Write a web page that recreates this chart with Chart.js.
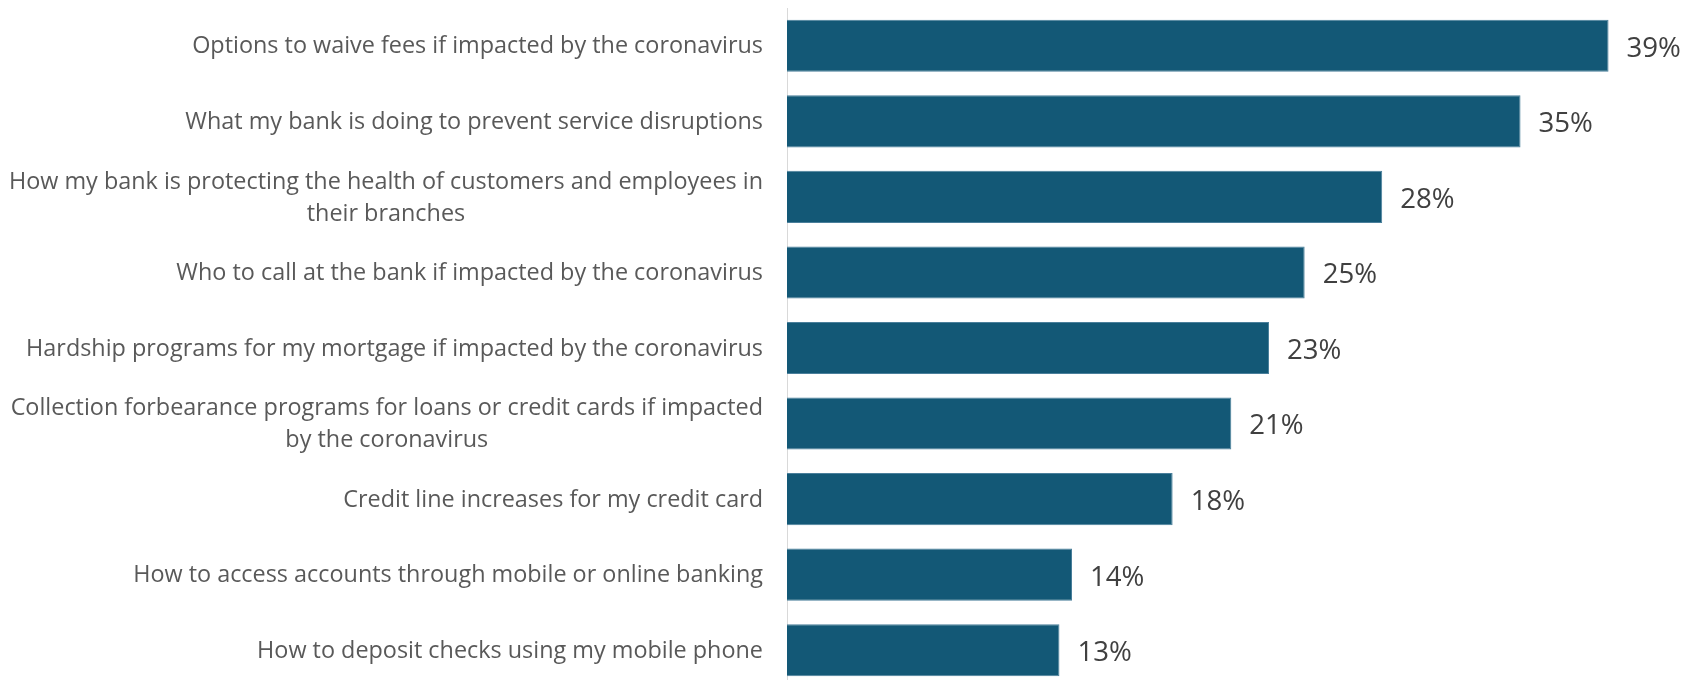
<!DOCTYPE html>
<html>
<head>
<meta charset="utf-8">
<script src="https://cdn.jsdelivr.net/npm/chart.js@4/dist/chart.umd.min.js"></script>
<style>
  html, body { margin: 0; padding: 0; background: #ffffff; overflow: hidden; }
  #wrap { position: absolute; left: 0; top: 0; width: 1684px; height: 688px; }
</style>
</head>
<body>
<div id="wrap"><canvas id="c" width="1684" height="688"></canvas></div>
<script>
const categories = [
  ["Options to waive fees if impacted by the coronavirus"],
  ["What my bank is doing to prevent service disruptions"],
  ["How my bank is protecting the health of customers and employees in", "their branches"],
  ["Who to call at the bank if impacted by the coronavirus"],
  ["Hardship programs for my mortgage if impacted by the coronavirus"],
  ["Collection forbearance programs for loans or credit cards if impacted", "by the coronavirus"],
  ["Credit line increases for my credit card"],
  ["How to access accounts through mobile or online banking"],
  ["How to deposit checks using my mobile phone"]
];
const values = [39.2, 35.0, 28.4, 24.7, 23.0, 21.2, 18.4, 13.6, 13.0];
const valueLabels = ["39%", "35%", "28%", "25%", "23%", "21%", "18%", "14%", "13%"];

const CAT_FONT = '23.4px "Open Sans"';
const VAL_FONT = '27.6px "Open Sans"';

const labelPlugin = {
  id: 'customLabels',
  afterDatasetsDraw(chart) {
    const ctx = chart.ctx;
    const yScale = chart.scales.y;
    const meta = chart.getDatasetMeta(0);
    ctx.save();
    // category labels
    ctx.font = CAT_FONT;
    ctx.fillStyle = '#595959';
    ctx.textBaseline = 'middle';
    const rightX = yScale.right - 24;
    const lineH = 32;
    categories.forEach((lines, i) => {
      const cy = yScale.getPixelForTick(i) + 1;
      if (lines.length === 1) {
        ctx.textAlign = 'right';
        ctx.fillText(lines[0], rightX, cy);
      } else {
        const w0 = ctx.measureText(lines[0]).width;
        const cx = rightX - w0 / 2;
        ctx.textAlign = 'center';
        lines.forEach((ln, k) => {
          ctx.fillText(ln, cx, cy + (k - (lines.length - 1) / 2) * lineH);
        });
      }
    });
    // value labels
    ctx.font = VAL_FONT;
    ctx.fillStyle = '#404040';
    ctx.textAlign = 'left';
    meta.data.forEach((bar, i) => {
      ctx.fillText(valueLabels[i], bar.x + 18, bar.y + 3);
    });
    ctx.restore();
  }
};

new Chart(document.getElementById('c'), {
  type: 'bar',
  data: {
    labels: categories.map(l => l.join(' ')),
    datasets: [{
      data: values,
      backgroundColor: '#135876',
      borderColor: '#4a7f9b',
      borderWidth: 1,
      borderSkipped: 'start',
      barPercentage: 0.69,
      categoryPercentage: 1.0
    }]
  },
  options: {
    indexAxis: 'y',
    responsive: false,
    animation: false,
    devicePixelRatio: 1,
    layout: { padding: { top: 8, right: 0, bottom: 0, left: 0 } },
    plugins: { legend: { display: false }, tooltip: { enabled: false } },
    scales: {
      x: {
        display: false,
        min: 0,
        max: 42.8
      },
      y: {
        position: 'left',
        grid: { display: false, drawTicks: false },
        border: { display: true, color: '#d9d9d9', width: 1 },
        ticks: { display: false },
        afterFit(scale) { scale.width = 787; }
      }
    }
  },
  plugins: [labelPlugin]
});
</script>
</body>
</html>
